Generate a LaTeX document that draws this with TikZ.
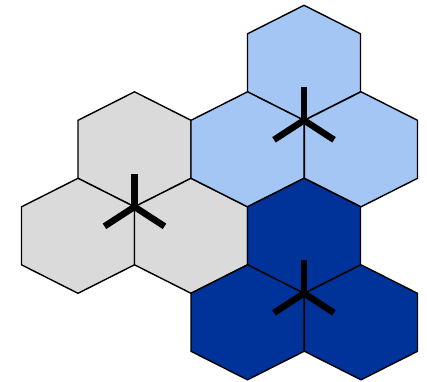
\documentclass[tikz,border=0pt]{standalone}

\definecolor{grisclair}{HTML}{DADADA}
\definecolor{bleuclair}{HTML}{A4C6F4}
\definecolor{bleufonce}{HTML}{003399}

\tikzset{
cellule/.style={draw=black,line width=1.4pt,line join=miter},
antenne/.style={line width=6.5pt}
}

\begin{document}
\begin{tikzpicture}[x=1pt,y=-1pt]
\useasboundingbox (0,0) rectangle (427,381);

% Cellules
\foreach \x/\y/\c in {
134.5/149.3/grisclair,
78/235.8/grisclair,
191/235.8/grisclair,
304/62.8/bleuclair,
247.5/149.3/bleuclair,
361/149.3/bleuclair,
304/235.8/bleufonce,
247.5/322.3/bleufonce,
361/322.3/bleufonce}
{
\filldraw[cellule,fill=\c]
(\x,\y-57.5) -- (\x+56.5,\y-29) -- (\x+56.5,\y+29)
-- (\x,\y+57.5) -- (\x-56.5,\y+29) -- (\x-56.5,\y-29) -- cycle;
}

% Antennes
\foreach \x/\y in {
134.5/206.8,
304/120.3,
304/293.3}
{
\draw[antenne] (\x,\y) -- ++(0,-33);
\draw[antenne] (\x,\y) -- ++(-30,19.5);
\draw[antenne] (\x,\y) -- ++(30,19.5);
}

\end{tikzpicture}
\end{document}
